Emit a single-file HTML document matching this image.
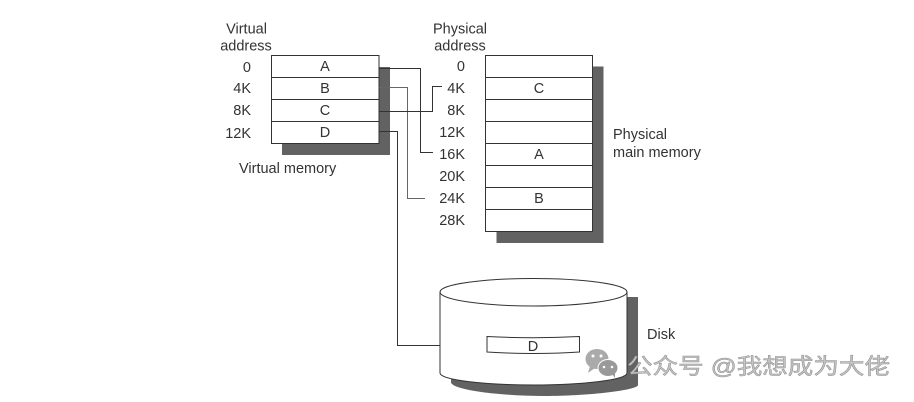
<!DOCTYPE html>
<html>
<head>
<meta charset="utf-8">
<style>
html,body{margin:0;padding:0;background:#fff;}
body{width:914px;height:402px;overflow:hidden;}
svg{display:block;filter:blur(.3px);}
text{font-family:"Liberation Sans",sans-serif;font-size:14.500px;fill:#333;}
.wm{font-family:"Liberation Sans","Noto Sans CJK SC",sans-serif;font-size:22px;fill:#c4c4c4;stroke:#8f8f8f;stroke-width:.5px;}
</style>
</head>
<body>
<svg width="914" height="402" viewBox="0 0 914 402" xmlns="http://www.w3.org/2000/svg">
<rect width="914" height="402" fill="#fff"/>

<!-- Virtual memory -->
<rect x="282" y="67" width="108" height="88" fill="#626262"/>
<rect x="271.500" y="55.500" width="107.500" height="88" fill="#fff" stroke="#333" stroke-width="1"/>
<g stroke="#333" stroke-width="1">
<line x1="271.500" y1="77.500" x2="379" y2="77.500"/>
<line x1="271.500" y1="99.500" x2="379" y2="99.500"/>
<line x1="271.500" y1="121.500" x2="379" y2="121.500"/>
</g>
<g text-anchor="middle">
<text x="325" y="71">A</text>
<text x="325" y="93">B</text>
<text x="325" y="115">C</text>
<text x="325" y="137">D</text>
<text x="246.500" y="33.500">Virtual</text>
<text x="246" y="50.500">address</text>
<text x="460" y="33.500">Physical</text>
<text x="460" y="50.500">address</text>
</g>
<g text-anchor="end">
<text x="251" y="72">0</text>
<text x="251" y="93">4K</text>
<text x="251" y="115">8K</text>
<text x="251" y="138">12K</text>
<text x="465" y="71">0</text>
<text x="465" y="93">4K</text>
<text x="465" y="115">8K</text>
<text x="465" y="137">12K</text>
<text x="465" y="159">16K</text>
<text x="465" y="181">20K</text>
<text x="465" y="203">24K</text>
<text x="465" y="225">28K</text>
</g>
<text x="239" y="173">Virtual memory</text>

<!-- Physical memory -->
<rect x="496.500" y="66.500" width="107" height="176.500" fill="#626262"/>
<rect x="485.500" y="55.500" width="107" height="176" fill="#fff" stroke="#333" stroke-width="1"/>
<g stroke="#333" stroke-width="1">
<line x1="485.500" y1="77.500" x2="592.500" y2="77.500"/>
<line x1="485.500" y1="99.500" x2="592.500" y2="99.500"/>
<line x1="485.500" y1="121.500" x2="592.500" y2="121.500"/>
<line x1="485.500" y1="143.500" x2="592.500" y2="143.500"/>
<line x1="485.500" y1="165.500" x2="592.500" y2="165.500"/>
<line x1="485.500" y1="187.500" x2="592.500" y2="187.500"/>
<line x1="485.500" y1="209.500" x2="592.500" y2="209.500"/>
</g>
<g text-anchor="middle">
<text x="539" y="93">C</text>
<text x="539" y="159">A</text>
<text x="539" y="203">B</text>
</g>
<text x="613" y="139">Physical</text>
<text x="613" y="157">main memory</text>

<!-- Connectors -->
<g fill="none" stroke="#333" stroke-width="1">
<polyline points="379,68.500 420.500,68.500 420.500,152.500 433,152.500"/>
<polyline points="379,87.500 407.500,87.500 407.500,198.500 425,198.500" stroke="#666"/>
<polyline points="379,111.500 432.500,111.500 432.500,86.500 442,86.500"/>
<polyline points="379,131.500 397.500,131.500 397.500,345.500 440,345.500"/>
</g>

<!-- Disk -->
<path d="M451 297 H638 V385 C638 390 590 396 545 396 C500 396 451 390 451 382 Z" fill="#626262"/>
<path d="M440 292 C440 284 485 278.500 533.500 278.500 C582 278.500 627 284 627 292 V373 C627 380 582 385 533.500 385 C485 385 440 380 440 373 Z" fill="#fff" stroke="#333" stroke-width="1"/>
<path d="M440 292 C440 300 485 306 533.500 306 C582 306 627 300 627 292" fill="none" stroke="#333" stroke-width="1"/>
<path d="M487 336.500 C515 338 551 338 579.500 336.500 V352 C551 354 515 354 487 352 Z" fill="#fff" stroke="#333" stroke-width="1"/>
<text x="533" y="351" text-anchor="middle">D</text>
<text x="647" y="339">Disk</text>

<!-- Watermark -->
<ellipse cx="597" cy="359" rx="11.500" ry="10" fill="#aaa"/>
<path d="M590 366 L588 373 L595 368 Z" fill="#aaa"/>
<ellipse cx="608" cy="368" rx="10" ry="8.500" fill="#999" stroke="#fff" stroke-width="1"/>
<path d="M612 374 L615 378 L615 372 Z" fill="#999"/>
<circle cx="593" cy="356" r="1.500" fill="#fff"/>
<circle cx="601" cy="356" r="1.500" fill="#fff"/>
<circle cx="604" cy="367" r="1.300" fill="#fff"/>
<circle cx="612" cy="367" r="1.300" fill="#fff"/>
<text class="wm" x="627" y="374" textLength="263" lengthAdjust="spacingAndGlyphs">公众号 @我想成为大佬</text>
</svg>
</body>
</html>
